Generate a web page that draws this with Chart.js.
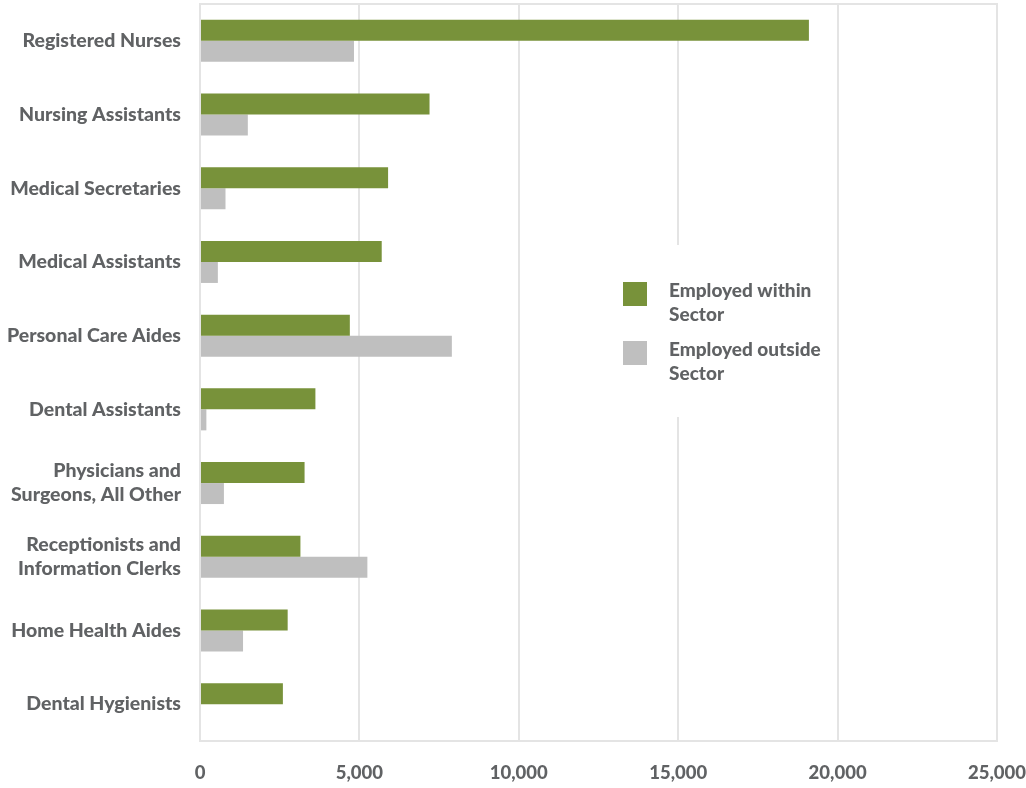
<!DOCTYPE html>
<html><head><meta charset="utf-8">
<script src="https://cdn.jsdelivr.net/npm/chart.js@4.4.1/dist/chart.umd.min.js"></script>
<style>html,body{margin:0;padding:0;background:#fff;} #wrap{width:1026px;height:788px;position:relative;}</style>
</head><body><div id="wrap"><canvas id="c" width="1026" height="788"></canvas></div>
<script>
const categories = [
  ["Registered Nurses"],
  ["Nursing Assistants"],
  ["Medical Secretaries"],
  ["Medical Assistants"],
  ["Personal Care Aides"],
  ["Dental Assistants"],
  ["Physicians and", "Surgeons, All Other"],
  ["Receptionists and", "Information Clerks"],
  ["Home Health Aides"],
  ["Dental Hygienists"]
];
const seriesNames = ["Employed within Sector", "Employed outside Sector"];
const legendLines = [["Employed within", "Sector"], ["Employed outside", "Sector"]];
const withinSector = [19100, 7200, 5900, 5700, 4700, 3620, 3280, 3150, 2750, 2600];
const outsideSector = [4830, 1500, 800, 560, 7900, 200, 750, 5250, 1350, 0];
const xTicks = [0, 5000, 10000, 15000, 20000, 25000];

const GREEN = '#78923a', GREY = '#bfbfbf', TEXT = '#606264', GRID = '#e4e4e4';
const FAMILY = "Lato, 'Liberation Sans', sans-serif";
const LABEL_FONT = {family: FAMILY, size: 19.5, weight: '900', lineHeight: 1.23};
const TICK_FONT = {family: FAMILY, size: 18.5, weight: '900'};

const framePlugin = {
  id: 'frame',
  beforeDatasetsDraw(chart) {
    const {ctx, chartArea: a} = chart;
    ctx.save();
    ctx.strokeStyle = GRID; ctx.lineWidth = 2;
    ctx.strokeRect(a.left, a.top, a.right - a.left, a.bottom - a.top);
    // legend box
    const lx = 600, ly = 245, lw = 232, lh = 172;
    ctx.fillStyle = '#fff';
    ctx.fillRect(lx, ly, lw, lh);
    const colors = chart.data.datasets.map(d => d.backgroundColor);
    ctx.font = "900 19px " + FAMILY;
    ctx.textBaseline = 'middle';
    ctx.textAlign = 'left';
    const rows = [282, 341];
    legendLines.forEach((lines, i) => {
      ctx.fillStyle = colors[i];
      ctx.fillRect(623, rows[i], 24, 24);
      ctx.fillStyle = TEXT;
      lines.forEach((t, j) => ctx.fillText(t, 669, rows[i] + 9 + j * 24));
    });
    ctx.restore();
  }
};

new Chart(document.getElementById('c'), {
  type: 'bar',
  data: {
    labels: categories,
    datasets: [
      {label: seriesNames[0], data: withinSector, backgroundColor: GREEN, categoryPercentage: 0.57, barPercentage: 1.0},
      {label: seriesNames[1], data: outsideSector, backgroundColor: GREY, categoryPercentage: 0.57, barPercentage: 1.0}
    ]
  },
  options: {
    indexAxis: 'y',
    responsive: false,
    animation: false,
    layout: {padding: {top: 4, right: 29, left: 0, bottom: 0}},
    plugins: {legend: {display: false}, tooltip: {enabled: false}},
    scales: {
      x: {
        min: xTicks[0], max: xTicks[xTicks.length - 1],
        afterBuildTicks(s) { s.ticks = xTicks.map(v => ({value: v})); },
        afterFit(s) { s.height = 47; s.paddingLeft = 0; s.paddingRight = 0; s.paddingTop = 0; s.paddingBottom = 0; },
        ticks: {color: TEXT, font: TICK_FONT, padding: 21, maxRotation: 0,
          callback: v => Number(v).toLocaleString('en-US')},
        grid: {color: GRID, lineWidth: 2, drawTicks: false},
        border: {display: false}
      },
      y: {
        afterFit(s) { s.width = 200; s.paddingLeft = 0; s.paddingRight = 0; s.paddingTop = 0; s.paddingBottom = 0; },
        ticks: {color: TEXT, font: LABEL_FONT, padding: 19},
        grid: {display: false, drawTicks: false},
        border: {display: false}
      }
    }
  },
  plugins: [framePlugin]
});
</script>
</body></html>
